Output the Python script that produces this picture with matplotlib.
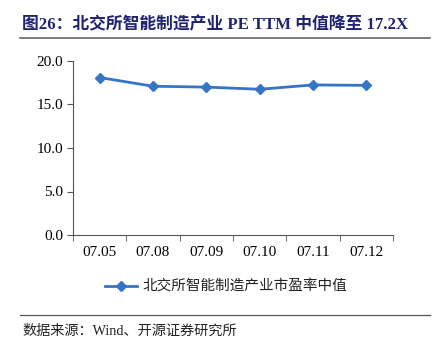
import matplotlib.pyplot as plt
from matplotlib.lines import Line2D

dates = ["07.05", "07.08", "07.09", "07.10", "07.11", "07.12"]
pe_median = [18.1, 17.1, 17.0, 16.75, 17.25, 17.2]
yticks = [0.0, 5.0, 10.0, 15.0, 20.0]

serif_cjk = ["Liberation Serif", "Noto Sans CJK SC"]
cjk = ["Noto Sans CJK SC", "DejaVu Sans"]

fig = plt.figure(figsize=(4.39, 3.52), dpi=100)
ax = fig.add_axes([73 / 439, 1 - 235 / 352, 320 / 439, 174 / 352])

x = list(range(len(dates)))
ax.plot(x, pe_median, color="#3674c8", lw=2, marker="D", ms=5)
ax.set_xlim(-0.5, len(dates) - 0.5)
ax.set_ylim(0, 20)
ax.set_yticks(yticks)
ax.set_yticklabels([f"{v:.1f}" for v in yticks], fontfamily="Liberation Serif", fontsize=11)
ax.set_xticks(x)
ax.set_xticklabels(dates, fontfamily="Liberation Serif", fontsize=11)
ax.set_xticks([i - 0.5 for i in range(len(dates) + 1)], minor=True)
ax.tick_params(axis="x", which="major", length=0, pad=8)
ax.tick_params(axis="x", which="minor", length=4, color="#555555")
ax.tick_params(axis="y", length=4, color="#555555", pad=3)
for s in ["top", "right"]:
    ax.spines[s].set_visible(False)
for s in ["left", "bottom"]:
    ax.spines[s].set_color("#555555")

# title and rules
fig.text(22 / 439, 1 - 25 / 352, "图26：北交所智能制造产业 PE TTM 中值降至 17.2X",
         fontfamily=serif_cjk, fontweight="bold", fontsize=12.1, color="#1f2370", va="center")
fig.add_artist(Line2D([20 / 439, 430 / 439], [1 - 38 / 352] * 2, color="#666666", lw=1.2))
fig.add_artist(Line2D([20 / 439, 430 / 439], [1 - 315 / 352] * 2, color="#555555", lw=0.9))

# legend
fig.add_artist(Line2D([105 / 439, 137 / 439], [1 - 286 / 352] * 2, color="#3674c8", lw=2))
fig.add_artist(Line2D([121 / 439], [1 - 286 / 352], color="#3674c8", marker="D", ms=5, lw=0))
fig.text(142 / 439, 1 - 286 / 352, "北交所智能制造产业市盈率中值", fontfamily=cjk,
         fontsize=10.5, va="center", color="#222222")

fig.text(22 / 439, 1 - 331 / 352, "数据来源：Wind、开源证券研究所", fontfamily=serif_cjk,
         fontsize=10.2, va="center", color="#222222")

fig.savefig("out.png", dpi=100)
